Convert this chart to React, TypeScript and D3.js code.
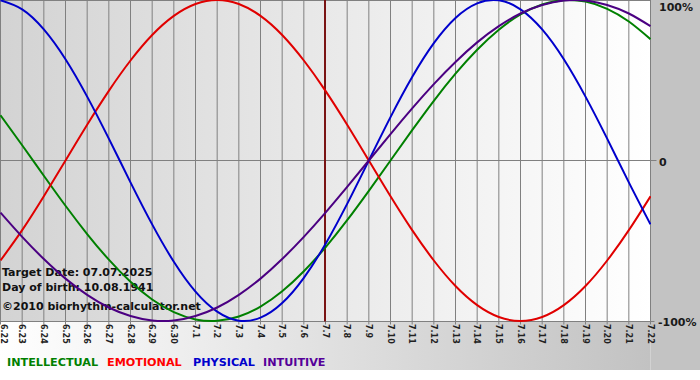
import React from 'react';
import * as d3 from 'd3';

const days = ['6.22','6.23','6.24','6.25','6.26','6.27','6.28','6.29','6.30','7.1','7.2','7.3','7.4','7.5','7.6','7.7','7.8','7.9','7.10','7.11','7.12','7.13','7.14','7.15','7.16','7.17','7.18','7.19','7.20','7.21','7.22'];

const intellectual = [0.282,0.095,-0.095,-0.282,-0.458,-0.618,-0.756,-0.866,-0.945,-0.990,-0.999,-0.972,-0.910,-0.815,-0.690,-0.541,-0.372,-0.189,0,0.189,0.372,0.541,0.690,0.815,0.910,0.972,0.999,0.990,0.945,0.866,0.756];
const emotional = [-0.623,-0.434,-0.223,0,0.223,0.434,0.623,0.782,0.901,0.975,1.0,0.975,0.901,0.782,0.623,0.434,0.223,0,-0.223,-0.434,-0.623,-0.782,-0.901,-0.975,-1.0,-0.975,-0.901,-0.782,-0.623,-0.434,-0.223];
const physical = [0.998,0.942,0.817,0.631,0.398,0.136,-0.136,-0.398,-0.631,-0.817,-0.942,-0.998,-0.979,-0.888,-0.731,-0.520,-0.270,0,0.270,0.520,0.731,0.888,0.979,0.998,0.942,0.817,0.631,0.398,0.136,-0.136,-0.398];
const intuitive = [-0.325,-0.476,-0.614,-0.736,-0.837,-0.916,-0.969,-0.997,-0.997,-0.969,-0.916,-0.837,-0.736,-0.614,-0.476,-0.325,-0.165,0,0.165,0.325,0.476,0.614,0.736,0.837,0.916,0.969,0.997,0.997,0.969,0.916,0.837];

const targetDay = '7.7';
const yTicks = [1, 0, -1];
const yTickLabels = ['100%', '0', '-100%'];
const infoLines = ['Target Date: 07.07.2025', 'Day of birth: 10.08.1941', '\u00a92010 biorhythm-calculator.net'];

const legendNames = ['INTELLECTUAL', 'EMOTIONAL', 'PHYSICAL', 'INTUITIVE'];
const lineColors = ['#008000', '#e00000', '#0000cc', '#4b0082'];
const legendColors = ['#008000', '#ff0000', '#0000cc', '#550099'];

export default function App() {
  const W = 700, H = 380;
  const plotRight = 650.5;
  const x = d3.scalePoint<string>().domain(days).range([0.5, plotRight]);
  const y = d3.scaleLinear().domain([-1, 1]).range([321, 0]);
  const series = [intellectual, emotional, physical, intuitive];
  const line = d3.line<number>()
    .x((_, i) => x(days[i]) as number)
    .y((d) => y(d))
    .curve(d3.curveNatural);
  const axisY = y(-1) + 0.5;
  const legendX = [7, 107, 193, 263];

  return (
    <svg width={W} height={H} style={{ position: 'absolute', left: 0, top: 0, display: 'block' }}>
      <defs>
        <linearGradient id="bandGrad" x1="0" x2="1" y1="0" y2="0">
          <stop offset="0" stopColor="#ffffff" />
          <stop offset="1" stopColor="#c2c2c2" />
        </linearGradient>
        <linearGradient id="plotGrad" x1="0" x2="1" y1="0" y2="0">
          <stop offset="0" stopColor="#d3d3d3" />
          <stop offset="1" stopColor="#ffffff" />
        </linearGradient>
        <clipPath id="plotClip">
          <rect x={0} y={0} width={plotRight + 0.5} height={axisY + 1} />
        </clipPath>
      </defs>
      <rect x={0} y={0} width={W} height={H} fill="#ffffff" />
      <rect x={0} y={0} width={plotRight} height={370} fill="url(#bandGrad)" />
      <rect x={plotRight} y={0} width={W - plotRight} height={370} fill="#c3c3c3" />
      <rect x={0} y={0} width={plotRight} height={axisY} fill="url(#plotGrad)" />

      {days.map((d) => (
        <line key={'g' + d} x1={x(d)} x2={x(d)} y1={0} y2={axisY + 3} stroke="#808080" strokeWidth={1} />
      ))}
      <line x1={0} x2={plotRight} y1={0.5} y2={0.5} stroke="#808080" />
      <line x1={0} x2={plotRight + 6} y1={y(0)} y2={y(0)} stroke="#808080" />
      <line x1={0} x2={plotRight + 4} y1={axisY} y2={axisY} stroke="#808080" />

      <line x1={(x(targetDay) as number) - 0.5} x2={(x(targetDay) as number) - 0.5} y1={0} y2={axisY} stroke="#7a1414" strokeWidth={2} />

      <g fontFamily="DejaVu Sans" fontWeight="bold" fontSize={11} fill="#111">
        {infoLines.map((t, i) => (
          <text key={t} x={2} y={[276, 291, 310][i]}>{t}</text>
        ))}
      </g>

      <g clipPath="url(#plotClip)">
        {series.map((s, i) => (
          <path key={legendNames[i]} d={line(s) || ''} fill="none" stroke={lineColors[i]} strokeWidth={2} />
        ))}
      </g>

      <g fontFamily="DejaVu Sans" fontWeight="bold" fontSize={8} fill="#222">
        {days.map((d) => {
          const tx = Math.max(x(d) as number, 4);
          return (
            <text key={'t' + d} x={tx} y={324} dy="0.35em" transform={`rotate(90, ${tx}, 324)`}>{d}</text>
          );
        })}
      </g>

      <g fontFamily="DejaVu Sans" fontWeight="bold" fontSize={11} fill="#1a1a1a">
        {yTicks.map((v, i) => (
          <text key={'y' + v} x={i === 2 ? 658 : 659} y={y(v) + (i === 0 ? 11 : 5)}>{yTickLabels[i]}</text>
        ))}
      </g>

      <g fontFamily="DejaVu Sans" fontWeight="bold" fontSize={11.2}>
        {legendNames.map((n, i) => (
          <text key={n} x={legendX[i]} y={366} fill={legendColors[i]}>{n}</text>
        ))}
      </g>
    </svg>
  );
}
